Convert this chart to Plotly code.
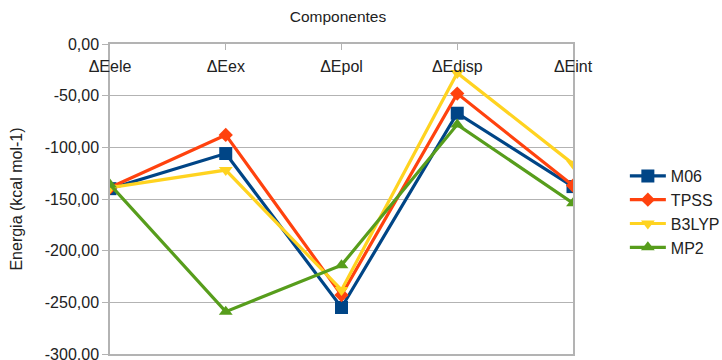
import plotly.graph_objects as go

# Interaction energy components per method (kcal/mol)
categories = ["ΔEele", "ΔEex", "ΔEpol", "ΔEdisp", "ΔEint"]
m06 = [-140, -106, -255, -67, -138]
tpss = [-139, -88, -243, -48, -137]
b3lyp = [-139, -122, -238, -28, -116]
mp2 = [-136, -259, -214, -78, -154]

y_ticks = [0, -50, -100, -150, -200, -250, -300]
y_tick_text = ["0,00", "-50,00", "-100,00", "-150,00", "-200,00", "-250,00", "-300,00"]

series = [
    ("M06", m06, "#004586", "square", 13),
    ("TPSS", tpss, "#ff420e", "diamond", 11),
    ("B3LYP", b3lyp, "#ffd320", "triangle-down", 12),
    ("MP2", mp2, "#579d1c", "triangle-up", 12),
]

font_family = "Liberation Sans, Arial, sans-serif"
grid_color = "#b3b3b3"
text_color = "#222222"

fig = go.Figure()
for name, values, color, symbol, size in series:
    fig.add_trace(go.Scatter(
        x=list(range(len(categories))),
        y=values,
        name=name,
        mode="lines+markers",
        line=dict(color=color, width=3.2),
        marker=dict(color=color, symbol=symbol, size=size),
    ))

fig.update_layout(
    width=722,
    height=360,
    margin=dict(l=110, r=149, t=44, b=6, autoexpand=False),
    paper_bgcolor="white",
    plot_bgcolor="white",
    font=dict(family=font_family, size=16, color=text_color),
    title=dict(
        text="Componentes",
        x=338 / 722,
        xanchor="center",
        y=1 - 17 / 360,
        yanchor="middle",
        font=dict(size=15.5, color=text_color),
    ),
    separators=",.",
    showlegend=True,
    legend=dict(
        x=1.112,
        xanchor="left",
        y=0.5 - 13 / 310,
        yanchor="middle",
        font=dict(size=16, color=text_color),
        bgcolor="rgba(0,0,0,0)",
        itemwidth=36,
        tracegroupgap=0,
    ),
)

fig.update_xaxes(
    tickmode="array",
    tickvals=list(range(len(categories))),
    ticktext=categories,
    range=[0, len(categories) - 1],
    side="top",
    ticks="inside",
    ticklen=6,
    tickcolor=grid_color,
    ticklabelposition="inside",
    ticklabeloverflow="allow",
    ticklabelstandoff=11,
    tickfont=dict(size=16, color=text_color),
    showgrid=False,
    showline=True,
    linecolor=grid_color,
    linewidth=1.5,
    mirror=True,
    zeroline=False,
    automargin=False,
)

fig.update_yaxes(
    range=[-300, 0],
    tickmode="array",
    tickvals=y_ticks,
    ticktext=y_tick_text,
    ticks="outside",
    ticklen=6,
    tickcolor=grid_color,
    ticklabeloverflow="allow",
    tickfont=dict(size=16, color=text_color),
    showgrid=True,
    gridcolor=grid_color,
    gridwidth=1,
    showline=True,
    linecolor=grid_color,
    linewidth=1.5,
    mirror=True,
    zeroline=False,
    automargin=False,
    title=dict(text="Energia (kcal mol-1)", font=dict(size=16, color=text_color), standoff=18),
)

fig.write_html("out.html")
